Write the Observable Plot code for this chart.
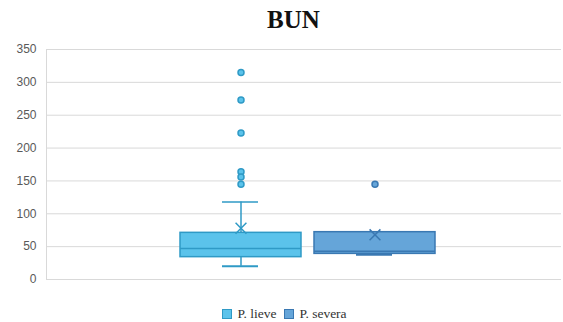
<!DOCTYPE html>
<html>
<head>
<meta charset="utf-8">
<script src="https://cdn.jsdelivr.net/npm/d3@7"></script>
<script src="https://cdn.jsdelivr.net/npm/@observablehq/plot@0.6"></script>
<style>
  html, body { margin: 0; padding: 0; background: #fff; }
  #wrap { position: relative; width: 563px; height: 322px; overflow: hidden; }
  #title { position: absolute; left: 0; top: 4px; width: 563px; text-align: center; padding-left: 24px; box-sizing: border-box;
           font-family: "Liberation Serif", "DejaVu Serif", serif; font-weight: bold; font-size: 25px; line-height: 32px; color: #111; }
  #chart { position: absolute; left: 0; top: 40px; }
  #legend { position: absolute; left: 0; top: 305px; width: 563px; display: flex; justify-content: center; padding-left: 6px; box-sizing: border-box;
            font-family: "Liberation Serif", "DejaVu Serif", serif; font-size: 13.5px; color: #333; line-height: 18px; }
  .item { display: flex; align-items: center; margin: 0 4px; }
  .item span.lab { font-family: "Liberation Serif", "DejaVu Serif", serif; }
  .sw { width: 8px; height: 8px; margin-right: 5px; border: 1px solid; }
</style>
</head>
<body>
<div id="wrap">
  <div id="title">BUN</div>
  <div id="chart"></div>
  <div id="legend"></div>
</div>
<script>
const series = ["P. lieve", "P. severa"];
const whiskerLow = [20, 37.5];
const q1 = [34, 39];
const median = [47, 43];
const q3 = [71, 72];
const whiskerHigh = [118, 72];
const mean = [78, 68];
const outlierSeries = ["P. lieve", "P. lieve", "P. lieve", "P. lieve", "P. lieve", "P. lieve", "P. severa"];
const outlierValues = [315, 273, 223, 164, 156, 145, 145];
const yTicks = [0, 50, 100, 150, 200, 250, 300, 350];

const fills = ["#5bc3eb", "#65a5d9"];
const strokes = ["#2f9ac6", "#3a78b2"];

const boxes = series.map((s, i) => ({
  s, lo: whiskerLow[i], q1: q1[i], med: median[i], q3: q3[i], hi: whiskerHigh[i], mean: mean[i]
}));
const outliers = outlierSeries.map((s, i) => ({ s, v: outlierValues[i] }));
const strokeOf = (d) => strokes[series.indexOf(d.s)];

// left axis line drawn at the frame's left edge
function leftLine(index, scales, values, dims) {
  const g = document.createElementNS("http://www.w3.org/2000/svg", "line");
  g.setAttribute("x1", dims.marginLeft + 0.5);
  g.setAttribute("x2", dims.marginLeft + 0.5);
  g.setAttribute("y1", scales.y(350));
  g.setAttribute("y2", scales.y(0));
  g.setAttribute("stroke", "#d9d9d9");
  return g;
}

const plot = Plot.plot({
  width: 563,
  height: 260,
  marginLeft: 46,
  marginRight: 2,
  marginTop: 9,
  marginBottom: 21,
  x: { domain: series, paddingInner: 0.1, paddingOuter: 0.96, align: 0.515, axis: null },
  y: { domain: [0, 350], ticks: yTicks, tickSize: 0, tickPadding: 10, label: null },
  color: { domain: series, range: fills },
  style: { fontFamily: "'Liberation Sans', Arial, sans-serif", fontSize: "12px", color: "#595959", background: "#fff" },
  marks: [
    Plot.gridY(yTicks, { stroke: "#d9d9d9", strokeOpacity: 1, strokeWidth: 1 }),
    leftLine,
    Plot.axisY({ ticks: yTicks, tickSize: 0, tickPadding: 10, fill: "#595959", fontSize: 12, label: null }),
    // whiskers
    Plot.ruleX(boxes, { x: "s", y1: "q3", y2: "hi", stroke: strokeOf, strokeWidth: 1.5 }),
    Plot.ruleX(boxes, { x: "s", y1: "lo", y2: "q1", stroke: strokeOf, strokeWidth: 1.5 }),
    Plot.tickY(boxes, { x: "s", y: "hi", stroke: strokeOf, strokeWidth: 1.5, insetLeft: 42, insetRight: 43 }),
    Plot.tickY(boxes, { x: "s", y: "lo", stroke: strokeOf, strokeWidth: 2, insetLeft: 42, insetRight: 43 }),
    // boxes
    Plot.barY(boxes, { x: "s", y1: "q1", y2: "q3", fill: "s", stroke: strokeOf, strokeWidth: 1.5 }),
    Plot.tickY(boxes, { x: "s", y: "med", stroke: strokeOf, strokeWidth: 1.5 }),
    // mean
    Plot.dot(boxes, { x: "s", y: "mean", symbol: "times", r: 5, stroke: strokeOf, strokeWidth: 1.5 }),
    // outliers
    Plot.dot(outliers, { x: "s", y: "v", r: 3, fill: "s", stroke: strokeOf, strokeWidth: 1.5 })
  ]
});
document.getElementById("chart").appendChild(plot);

const legend = document.getElementById("legend");
series.forEach((s, i) => {
  const item = document.createElement("div");
  item.className = "item";
  const sw = document.createElement("span");
  sw.className = "sw";
  sw.style.background = fills[i];
  sw.style.borderColor = strokes[i];
  const label = document.createElement("span");
  label.className = "lab";
  label.textContent = s;
  item.appendChild(sw);
  item.appendChild(label);
  legend.appendChild(item);
});
</script>
</body>
</html>
